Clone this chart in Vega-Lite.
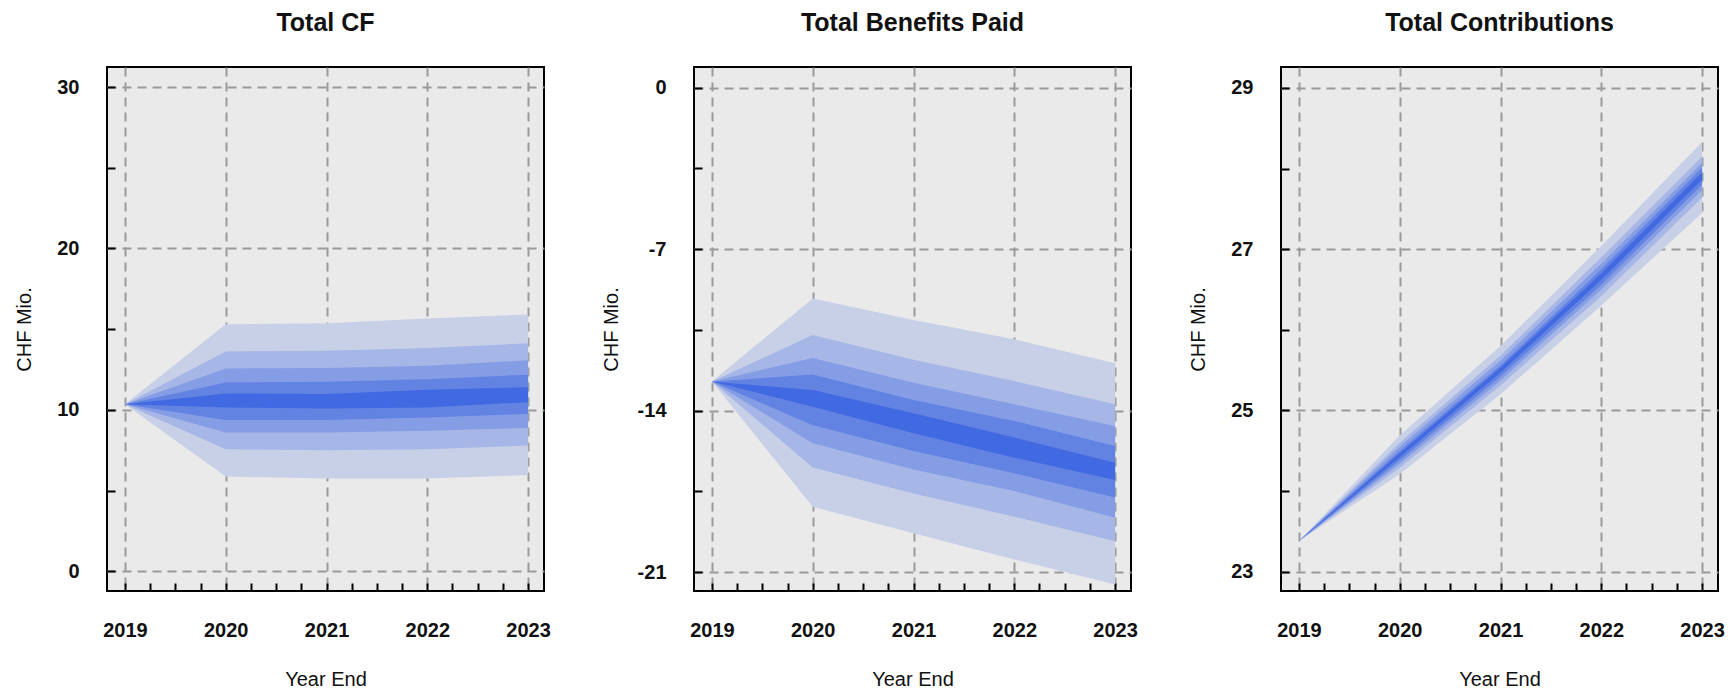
{
  "$schema": "https://vega.github.io/schema/vega-lite/v6.json",
  "background": "white",
  "padding": {"left": 13, "top": 10, "right": 0, "bottom": 0},
  "spacing": 150,
  "bounds": "flush",
  "datasets": {
    "cf": [
      {"year": 2019, "p5": 10.35, "p10": 10.35, "p20": 10.35, "p30": 10.35, "p40": 10.35, "p60": 10.35, "p70": 10.35, "p80": 10.35, "p90": 10.35, "p95": 10.35},
      {"year": 2020, "p5": 5.87, "p10": 7.56, "p20": 8.60, "p30": 9.38, "p40": 10.15, "p60": 11.02, "p70": 11.70, "p80": 12.57, "p90": 13.62, "p95": 15.31},
      {"year": 2021, "p5": 5.75, "p10": 7.50, "p20": 8.60, "p30": 9.38, "p40": 10.08, "p60": 10.99, "p70": 11.74, "p80": 12.59, "p90": 13.66, "p95": 15.36},
      {"year": 2022, "p5": 5.75, "p10": 7.56, "p20": 8.70, "p30": 9.53, "p40": 10.15, "p60": 11.24, "p70": 11.90, "p80": 12.73, "p90": 13.83, "p95": 15.66},
      {"year": 2023, "p5": 5.96, "p10": 7.79, "p20": 8.88, "p30": 9.75, "p40": 10.48, "p60": 11.40, "p70": 12.18, "p80": 13.07, "p90": 14.12, "p95": 15.91}
    ],
    "benefits": [
      {"year": 2019, "p5": -12.74, "p10": -12.74, "p20": -12.74, "p30": -12.74, "p40": -12.74, "p60": -12.74, "p70": -12.74, "p80": -12.74, "p90": -12.74, "p95": -12.74},
      {"year": 2020, "p5": -18.17, "p10": -16.47, "p20": -15.42, "p30": -14.64, "p40": -13.83, "p60": -13.11, "p70": -12.44, "p80": -11.72, "p90": -10.73, "p95": -9.14},
      {"year": 2021, "p5": -19.32, "p10": -17.59, "p20": -16.55, "p30": -15.75, "p40": -14.98, "p60": -14.12, "p70": -13.54, "p80": -12.79, "p90": -11.80, "p95": -10.07},
      {"year": 2022, "p5": -20.45, "p10": -18.60, "p20": -17.49, "p30": -16.72, "p40": -16.04, "p60": -15.17, "p70": -14.45, "p80": -13.73, "p90": -12.72, "p95": -10.91},
      {"year": 2023, "p5": -21.54, "p10": -19.66, "p20": -18.64, "p30": -17.77, "p40": -17.01, "p60": -16.26, "p70": -15.54, "p80": -14.67, "p90": -13.73, "p95": -11.95}
    ],
    "contributions": [
      {"year": 2019, "p5": 23.38, "p10": 23.38, "p20": 23.38, "p30": 23.38, "p40": 23.38, "p60": 23.38, "p70": 23.38, "p80": 23.38, "p90": 23.38, "p95": 23.38},
      {"year": 2020, "p5": 24.21, "p10": 24.29, "p20": 24.34, "p30": 24.38, "p40": 24.42, "p60": 24.47, "p70": 24.50, "p80": 24.55, "p90": 24.60, "p95": 24.69},
      {"year": 2021, "p5": 25.20, "p10": 25.31, "p20": 25.37, "p30": 25.42, "p40": 25.47, "p60": 25.53, "p70": 25.56, "p80": 25.62, "p90": 25.68, "p95": 25.80},
      {"year": 2022, "p5": 26.30, "p10": 26.42, "p20": 26.50, "p30": 26.56, "p40": 26.62, "p60": 26.70, "p70": 26.75, "p80": 26.82, "p90": 26.90, "p95": 27.04},
      {"year": 2023, "p5": 27.45, "p10": 27.64, "p20": 27.73, "p30": 27.80, "p40": 27.86, "p60": 27.95, "p70": 28.01, "p80": 28.07, "p90": 28.15, "p95": 28.33}
    ]
  },
  "hconcat": [
    {
      "title": {"text": "Total CF"},
      "width": 437,
      "height": 524,
      "data": {"name": "cf"},
      "encoding": {
        "x": {
          "field": "year", "type": "quantitative",
          "scale": {"domain": [2018.822, 2023.158], "nice": false, "zero": false},
          "axis": {
            "title": "Year End",
            "values": [2019, 2019.25, 2019.5, 2019.75, 2020, 2020.25, 2020.5, 2020.75, 2021, 2021.25, 2021.5, 2021.75, 2022, 2022.25, 2022.5, 2022.75, 2023],
            "labelExpr": "datum.value % 1 == 0 ? '' + datum.value : ''",
            "gridOpacity": {"condition": {"test": "datum.value % 1 == 0", "value": 1}, "value": 0}
          }
        }
      },
      "layer": [
        {"mark": {"type": "area", "color": "#C8D0E8"},
         "encoding": {
           "y": {"field": "p5", "type": "quantitative",
                 "scale": {"domain": [-1.22, 31.24], "nice": false, "zero": false},
                 "axis": {
                   "title": "CHF Mio.",
                   "values": [0, 5, 10, 15, 20, 25, 30],
                   "labelExpr": "datum.value % 10 == 0 ? '' + datum.value : ''",
                   "gridOpacity": {"condition": {"test": "datum.value % 10 == 0", "value": 1}, "value": 0}
                 }},
           "y2": {"field": "p95"}}},
        {"mark": {"type": "area", "color": "#A6B6E6"},
         "encoding": {"y": {"field": "p10", "type": "quantitative"}, "y2": {"field": "p90"}}},
        {"mark": {"type": "area", "color": "#859DE5"},
         "encoding": {"y": {"field": "p20", "type": "quantitative"}, "y2": {"field": "p80"}}},
        {"mark": {"type": "area", "color": "#6383E3"},
         "encoding": {"y": {"field": "p30", "type": "quantitative"}, "y2": {"field": "p70"}}},
        {"mark": {"type": "area", "color": "#4169E1"},
         "encoding": {"y": {"field": "p40", "type": "quantitative"}, "y2": {"field": "p60"}}}
      ]
    },
    {
      "title": {"text": "Total Benefits Paid"},
      "width": 437,
      "height": 524,
      "data": {"name": "benefits"},
      "encoding": {
        "x": {
          "field": "year", "type": "quantitative",
          "scale": {"domain": [2018.822, 2023.158], "nice": false, "zero": false},
          "axis": {
            "title": "Year End",
            "values": [2019, 2019.25, 2019.5, 2019.75, 2020, 2020.25, 2020.5, 2020.75, 2021, 2021.25, 2021.5, 2021.75, 2022, 2022.25, 2022.5, 2022.75, 2023],
            "labelExpr": "datum.value % 1 == 0 ? '' + datum.value : ''",
            "gridOpacity": {"condition": {"test": "datum.value % 1 == 0", "value": 1}, "value": 0}
          }
        }
      },
      "layer": [
        {"mark": {"type": "area", "color": "#C8D0E8"},
         "encoding": {
           "y": {"field": "p5", "type": "quantitative",
                 "scale": {"domain": [-21.82, 0.89], "nice": false, "zero": false},
                 "axis": {
                   "title": "CHF Mio.",
                   "values": [-21, -17.5, -14, -10.5, -7, -3.5, 0],
                   "labelExpr": "datum.value % 7 == 0 ? '' + datum.value : ''",
                   "gridOpacity": {"condition": {"test": "datum.value % 7 == 0", "value": 1}, "value": 0}
                 }},
           "y2": {"field": "p95"}}},
        {"mark": {"type": "area", "color": "#A6B6E6"},
         "encoding": {"y": {"field": "p10", "type": "quantitative"}, "y2": {"field": "p90"}}},
        {"mark": {"type": "area", "color": "#859DE5"},
         "encoding": {"y": {"field": "p20", "type": "quantitative"}, "y2": {"field": "p80"}}},
        {"mark": {"type": "area", "color": "#6383E3"},
         "encoding": {"y": {"field": "p30", "type": "quantitative"}, "y2": {"field": "p70"}}},
        {"mark": {"type": "area", "color": "#4169E1"},
         "encoding": {"y": {"field": "p40", "type": "quantitative"}, "y2": {"field": "p60"}}}
      ]
    },
    {
      "title": {"text": "Total Contributions"},
      "width": 437,
      "height": 524,
      "data": {"name": "contributions"},
      "encoding": {
        "x": {
          "field": "year", "type": "quantitative",
          "scale": {"domain": [2018.822, 2023.158], "nice": false, "zero": false},
          "axis": {
            "title": "Year End",
            "values": [2019, 2019.25, 2019.5, 2019.75, 2020, 2020.25, 2020.5, 2020.75, 2021, 2021.25, 2021.5, 2021.75, 2022, 2022.25, 2022.5, 2022.75, 2023],
            "labelExpr": "datum.value % 1 == 0 ? '' + datum.value : ''",
            "gridOpacity": {"condition": {"test": "datum.value % 1 == 0", "value": 1}, "value": 0}
          }
        }
      },
      "layer": [
        {"mark": {"type": "area", "color": "#C8D0E8"},
         "encoding": {
           "y": {"field": "p5", "type": "quantitative",
                 "scale": {"domain": [22.76, 29.26], "nice": false, "zero": false},
                 "axis": {
                   "title": "CHF Mio.",
                   "values": [23, 24, 25, 26, 27, 28, 29],
                   "labelExpr": "datum.value % 2 == 1 ? '' + datum.value : ''",
                   "gridOpacity": {"condition": {"test": "datum.value % 2 == 1", "value": 1}, "value": 0}
                 }},
           "y2": {"field": "p95"}}},
        {"mark": {"type": "area", "color": "#A6B6E6"},
         "encoding": {"y": {"field": "p10", "type": "quantitative"}, "y2": {"field": "p90"}}},
        {"mark": {"type": "area", "color": "#859DE5"},
         "encoding": {"y": {"field": "p20", "type": "quantitative"}, "y2": {"field": "p80"}}},
        {"mark": {"type": "area", "color": "#6383E3"},
         "encoding": {"y": {"field": "p30", "type": "quantitative"}, "y2": {"field": "p70"}}},
        {"mark": {"type": "area", "color": "#4169E1"},
         "encoding": {"y": {"field": "p40", "type": "quantitative"}, "y2": {"field": "p60"}}}
      ]
    }
  ],
  "config": {
    "font": "Liberation Sans",
    "view": {"fill": "#EAEAEA", "stroke": "#000000", "strokeWidth": 2},
    "title": {
      "anchor": "middle", "frame": "group", "baseline": "alphabetic", "offset": 31,
      "fontSize": 25, "fontWeight": "bold", "font": "Liberation Sans", "color": "#111111"
    },
    "axis": {
      "domain": false,
      "grid": true,
      "gridColor": "#9A9A9A",
      "gridDash": [9, 6],
      "gridWidth": 2,
      "ticks": true,
      "tickColor": "#000000",
      "tickWidth": 2,
      "tickSize": -8,
      "labelFont": "Liberation Sans",
      "labelFontSize": 20,
      "labelFontWeight": "bold",
      "labelColor": "#111111",
      "labelOverlap": false,
      "labelFlush": false,
      "labelBound": false,
      "titleFont": "Liberation Sans",
      "titleFontSize": 20,
      "titleFontWeight": "normal",
      "titleColor": "#111111",
      "zindex": 1
    },
    "axisX": {
      "labelBaseline": "alphabetic",
      "labelPadding": 53,
      "titleBaseline": "alphabetic",
      "titleY": 94
    },
    "axisY": {
      "labelBaseline": "middle",
      "labelPadding": 36,
      "titleAngle": -90,
      "titleBaseline": "alphabetic",
      "titleX": -77
    }
  }
}
